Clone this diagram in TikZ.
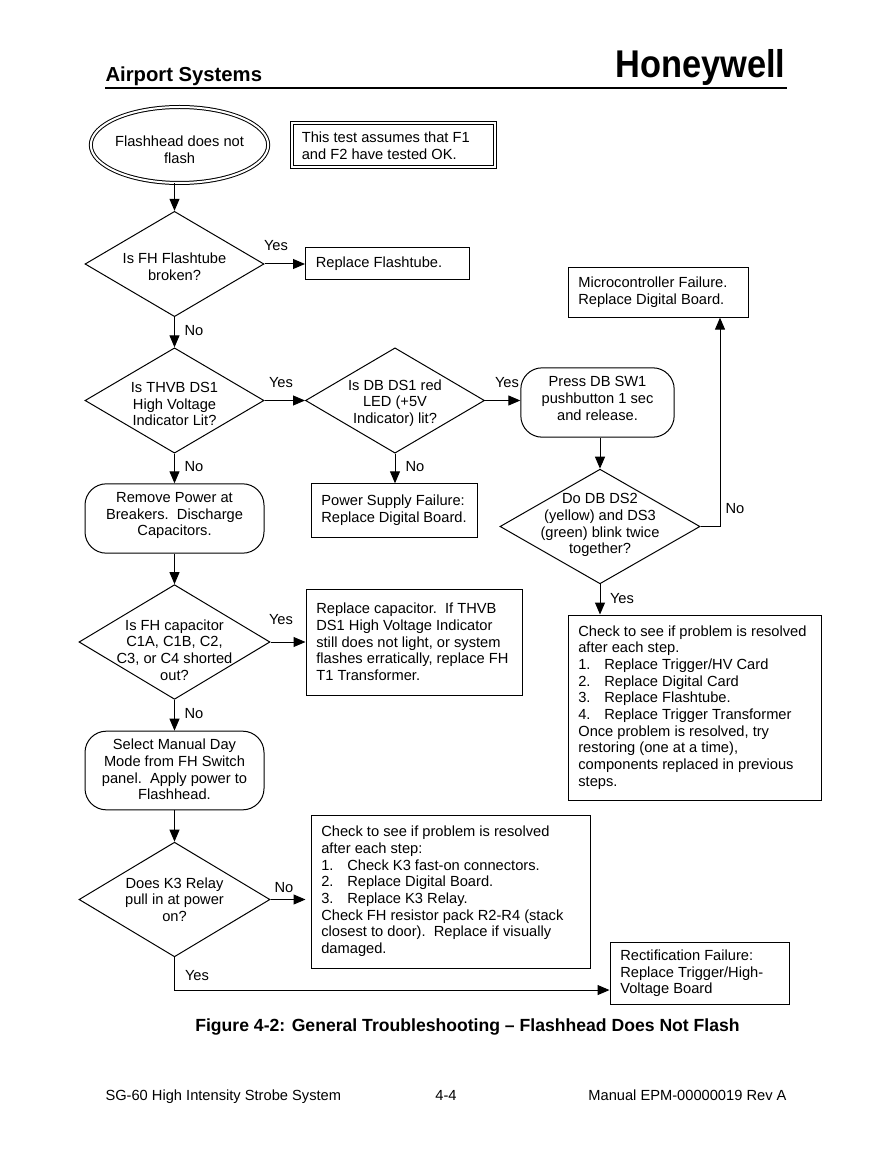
\documentclass[tikz,border=0pt]{standalone}
\usepackage{fontspec}
\setmainfont{Liberation Sans}
\usetikzlibrary{arrows.meta,shapes.geometric,calc}
\newcommand{\listno}[1]{\makebox[19.5pt][l]{#1}}

\begin{document}
\begin{tikzpicture}[
  x=0.75pt, y=-0.75pt,
  font=\fontsize{11}{12.5}\selectfont,
  >={Triangle[length=9pt,width=7.5pt]},
  line width=0.75pt,
  plain/.style={draw, align=flush left, inner sep=0pt, inner xsep=7.75pt, text width=#1*0.75pt-15.5pt},
  terminal/.style={draw, rounded corners=16pt, inner sep=0pt, minimum width=134.25pt},
  decision/.style={draw, diamond, inner sep=0pt, minimum width=134.25pt, minimum height=79pt},
  decisionwide/.style={draw, diamond, inner sep=0pt, minimum width=#1*0.75pt, minimum height=86pt},
  tag/.style={align=center, inner sep=0pt, yshift=#1},
  tag/.default=0pt,
  answer/.style={inner sep=0pt},
  pagetext/.style={inner sep=0pt}
]
\useasboundingbox (0,0) rectangle (892,1155);

% page header
\node[pagetext, anchor=west, font=\fontsize{15.2}{16}\selectfont\bfseries] (airport) at (105,76.5) {Airport Systems};
\node[pagetext, anchor=east, font=\fontsize{29}{30}\selectfont\bfseries] (logo) at (786,68) {\scalebox{0.89}[1]{Honeywell}};
\coordinate (ruleleft) at (105,88);
\coordinate (ruleright) at (787,88);
\draw[line width=1pt] (ruleleft) -- (ruleright);

% left column
\node[draw, ellipse, double, double distance=1.5pt, inner sep=0pt, minimum width=133pt, minimum height=57pt,
  label={[tag=-3.75pt]center:Flashhead does not\\flash}] (start) at (179.5,145) {};
\node[plain=203, double, double distance=1.5pt, minimum height=33pt] (assume) at (393,145.5)
  {This test assumes that F1\\and F2 have tested OK.};
\node[decision, label={[tag=-2pt]center:Is FH Flashtube\\broken?}] (tube) at (174.5,264) {};
\node[plain=164, minimum height=24pt, anchor=west] (flashtube) at (305,264) {Replace Flashtube.};
\node[decision, label={[tag=-2.6pt]center:Is THVB DS1\\High Voltage\\Indicator Lit?}] (thvb) at (174.5,400.5) {};
\node[decision, label={[tag=-2pt]center:Is DB DS1 red\\LED (+5V\\Indicator) lit?}] (dbled) at (395,400.5) {};
\node[terminal, minimum height=52pt, label={[tag=2.25pt]center:Remove Power at\\Breakers.\ \ Discharge\\Capacitors.}] (remove) at (174.5,518.5) {};
\node[plain=166, minimum height=40pt] (supply) at (394,510.5)
  {Power Supply Failure:\\Replace Digital Board.};
\node[decisionwide=191, label={[tag=-6pt]center:Is FH capacitor\\C1A, C1B, C2,\\C3, or C4 shorted\\out?}] (capacitor) at (174.5,642) {};
\node[plain=216, minimum height=79.5pt] (replacecap) at (414,642)
  {Replace capacitor.\ \ If THVB\\DS1 High Voltage Indicator\\still does not light, or system\\flashes erratically, replace FH\\T1 Transformer.\\[-6.5pt]};
\node[terminal, minimum height=59pt, label={[tag=0.75pt]center:Select Manual Day\\Mode from FH Switch\\panel.\ \ Apply power to\\Flashhead.}] (manual) at (174.5,770.5) {};
\node[decisionwide=191, label={[tag]center:Does K3 Relay\\pull in at power\\on?}] (relay) at (174.5,899.5) {};
\node[plain=279, minimum height=114.75pt] (checkrelay) at (450.5,891.5)
  {Check to see if problem is resolved\\after each step:\\\listno{1.}Check K3 fast-on connectors.\\\listno{2.}Replace Digital Board.\\\listno{3.}Replace K3 Relay.\\Check FH resistor pack R2-R4 (stack\\closest to door).\ \ Replace if visually\\damaged.\\[-8pt]};
\node[plain=179, minimum height=47pt] (rectify) at (699.5,973.5)
  {Rectification Failure:\\Replace Trigger/High-\\Voltage Board};

% right column
\node[plain=180, minimum height=37pt] (micro) at (658,292.5)
  {Microcontroller Failure.\\Replace Digital Board.};
\node[terminal, minimum width=115pt, minimum height=52pt, label={[tag=3pt]center:Press DB SW1\\pushbutton 1 sec\\and release.}] (press) at (597.5,402.5) {};
\node[decisionwide=200, label={[tag=1pt]center:Do DB DS2\\(yellow) and DS3\\(green) blink twice\\together?}] (blink) at (600,526.5) {};
\node[plain=253, minimum height=138.75pt] (checkcard) at (694.5,707.5)
  {Check to see if problem is resolved\\after each step.\\\listno{1.}Replace Trigger/HV Card\\\listno{2.}Replace Digital Card\\\listno{3.}Replace Flashtube.\\\listno{4.}Replace Trigger Transformer\\Once problem is resolved, try\\restoring (one at a time),\\components replaced in previous\\steps.};

% yes and no
\node[answer] (yestube) at (276,246) {Yes};
\node[answer] (notube) at (194,331) {No};
\node[answer] (yesthvb) at (281,383) {Yes};
\node[answer] (nothvb) at (194,467) {No};
\node[answer] (yesled) at (507,383) {Yes};
\node[answer] (noled) at (415,467) {No};
\node[answer] (noblink) at (735,509) {No};
\node[answer] (yesblink) at (622,599) {Yes};
\node[answer] (yescap) at (281,620) {Yes};
\node[answer] (nocap) at (194,714) {No};
\node[answer] (norelay) at (284,888) {No};
\node[answer] (yesrelay) at (197,976) {Yes};

\draw[->] (start.south -| tube.north) -- (tube.north);
\draw[->] (tube.east) -- (flashtube.west);
\draw[->] (tube.south) -- (thvb.north);
\draw[->] (thvb.east) -- (dbled.west);
\draw[->] (thvb.south) -- (remove.north);
\draw[->] (dbled.east) -- (press.west |- dbled.east);
\draw[->] (dbled.south) -- (dbled.south |- supply.north);
\draw[->] (press.south -| blink.north) -- (blink.north);
\draw[->] (blink.east) -| ([xshift=46.5pt]micro.south);
\draw[->] (blink.south) -- (blink.south |- checkcard.north);
\draw[->] (remove.south) -- (capacitor.north);
\draw[->] (capacitor.east) -- (replacecap.west |- capacitor.east);
\draw[->] (capacitor.south) -- (manual.north);
\draw[->] (manual.south) -- (relay.north);
\draw[->, shorten >=3.75pt] (relay.east) -- (checkrelay.west |- relay.east);
\draw[->] (relay.south) |- ([yshift=-12.4pt]rectify.west);

% page footer
\node[pagetext, font=\fontsize{13.2}{15}\selectfont\bfseries] (caption) at (467.5,1026.5)
  {Figure 4-2: General Troubleshooting -- Flashhead Does Not Flash};
\node[pagetext, anchor=base west] (product) at (105,1100) {SG-60 High Intensity Strobe System};
\node[pagetext, anchor=base] (pageno) at (446,1100) {4-4};
\node[pagetext, anchor=base east] (manualno) at (787,1100) {Manual EPM-00000019 Rev A};
\end{tikzpicture}
\end{document}
